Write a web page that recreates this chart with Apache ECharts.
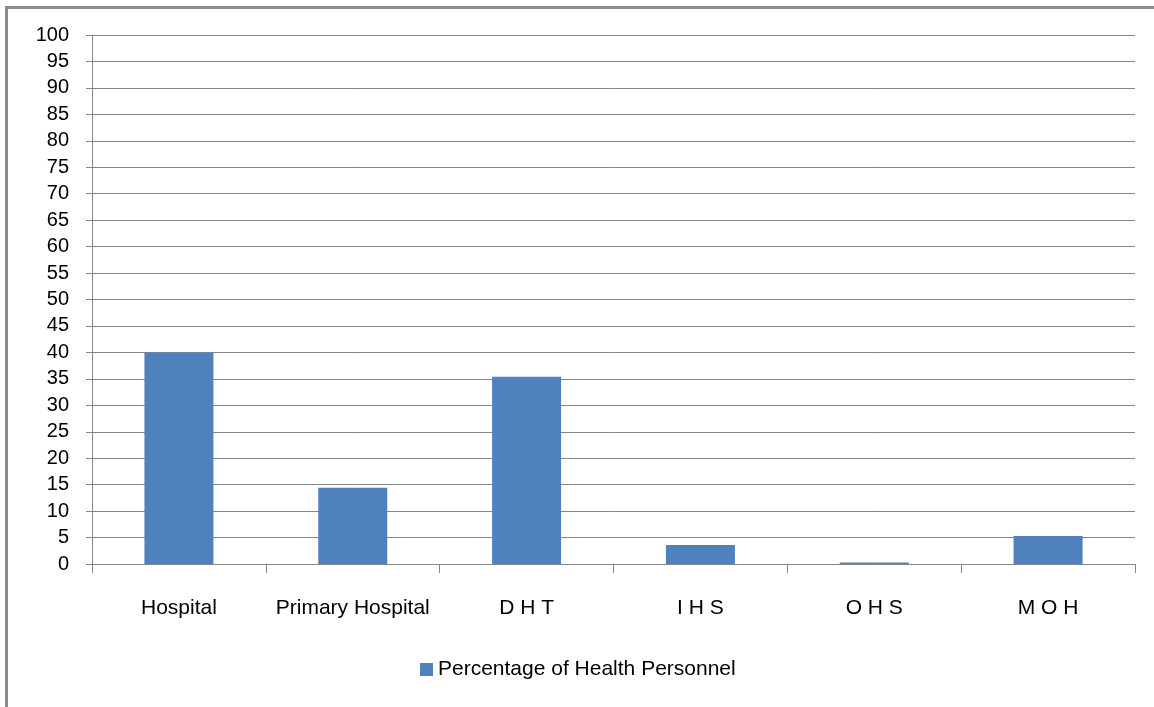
<!DOCTYPE html>
<html>
<head>
<meta charset="utf-8">
<script src="https://cdn.jsdelivr.net/npm/echarts@6/dist/echarts.min.js"></script>
<style>
  html, body { margin: 0; padding: 0; background: #fff; }
  #chart {
    position: absolute; left: 5px; top: 6px;
    width: 1149px; height: 701px;
    border-left: 3px solid #8c8c8c; border-top: 3px solid #8c8c8c;
    box-sizing: border-box;
  }
</style>
</head>
<body>
<div id="chart"></div>
<script>
var categories = ['Hospital', 'Primary Hospital', 'D H T', 'I H S', 'O H S', 'M O H'];
var personnelPct = [40, 14.4, 35.4, 3.6, 0.3, 5.3];
var seriesName = 'Percentage of Health Personnel';

var axisGray = '#868686';
var textFont = 'Liberation Sans';

var chart = echarts.init(document.getElementById('chart'));
chart.setOption({
  animation: false,
  grid: { left: 84, right: 19, top: 26, bottom: 143 },
  legend: {
    data: [seriesName],
    bottom: 22,
    left: 407,
    itemWidth: 13,
    itemHeight: 13,
    itemGap: 8,
    icon: 'rect',
    textStyle: { fontFamily: textFont, fontSize: 21, color: '#000' }
  },
  xAxis: {
    type: 'category',
    data: categories,
    axisLine: { lineStyle: { color: axisGray, width: 1 } },
    axisTick: { show: true, interval: 0, length: 9, lineStyle: { color: axisGray } },
    axisLabel: { interval: 0, hideOverlap: false, margin: 34, fontFamily: textFont, fontSize: 21, color: '#000' },
    splitLine: { show: false }
  },
  yAxis: {
    type: 'value',
    min: 0,
    max: 100,
    interval: 5,
    axisLine: { show: true, lineStyle: { color: axisGray, width: 1 } },
    axisTick: { show: true, length: 6, lineStyle: { color: axisGray } },
    axisLabel: { margin: 23, fontFamily: textFont, fontSize: 20, color: '#000' },
    splitLine: { show: true, lineStyle: { color: axisGray, width: 1 } }
  },
  series: [{
    name: seriesName,
    type: 'bar',
    data: personnelPct,
    barWidth: 69,
    itemStyle: { color: '#4f81bd' }
  }]
});
</script>
</body>
</html>
